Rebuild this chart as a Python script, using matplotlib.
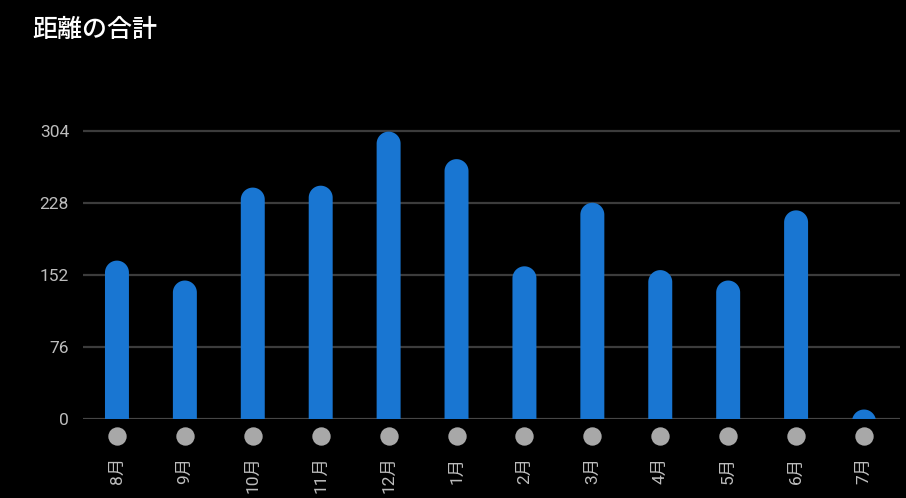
import matplotlib
matplotlib.use("Agg")
import matplotlib.pyplot as plt
from matplotlib.patches import Polygon
import numpy as np

months = ["8月", "9月", "10月", "11月", "12月", "1月", "2月", "3月", "4月", "5月", "6月", "7月"]
distance = [167, 146, 244, 246, 303, 274, 161, 228, 157, 146, 220, 10]
y_ticks = [0, 76, 152, 228, 304]

BLUE = "#1976d2"
GRID = "#3c3c3c"
LABEL = "#bdbdbd"
DOT = "#a8a8a8"
FONTS = ["Roboto", "Noto Sans CJK JP", "DejaVu Sans"]

W, H = 906, 498
fig = plt.figure(figsize=(W / 100, H / 100), dpi=100, facecolor="black")
# axes placed in pixels: left 83, right 900, bottom at y=419, top at y=125
ax = fig.add_axes([83 / W, (H - 419) / H, (900 - 83) / W, (419 - 125) / H])
ax.set_facecolor("black")

x = np.arange(len(months))
xlim = (-0.5, len(months) - 0.5 + 0.03)
ylim = (0, 310)
ax.set_xlim(*xlim)
ax.set_ylim(*ylim)

# rounded-top bars: one polygon per bar, the cap is a half ellipse that looks round on screen
bar_w = 0.353
ax_w_px = 900 - 83
ax_h_px = 419 - 125
r_px = bar_w * ax_w_px / (xlim[1] - xlim[0]) / 2
r_data = r_px * (ylim[1] - ylim[0]) / ax_h_px
theta = np.linspace(np.pi, 0, 40)
for xi, v in zip(x, distance):
    c = v - r_data
    base = min(0, c)
    arc = np.column_stack([xi + bar_w / 2 * np.cos(theta), c + r_data * np.sin(theta)])
    pts = np.vstack([[xi - bar_w / 2, base], arc, [xi + bar_w / 2, base]])
    ax.add_patch(Polygon(pts, closed=True, color=BLUE, lw=0, zorder=3))

ax.set_yticks(y_ticks)
ax.set_yticklabels([str(t) for t in y_ticks], family=FONTS, fontsize=12.5, color=LABEL)
ax.yaxis.grid(True, color=GRID, lw=1.6)
ax.set_axisbelow(True)
ax.axhline(0, color="#4a4a4a", lw=1.8, zorder=2)

ax.set_xticks(x)
ax.set_xticklabels(months, rotation=90, va="top", ha="center", family=FONTS, fontsize=12.5, color=LABEL)
ax.tick_params(axis="x", length=0, pad=27)
ax.tick_params(axis="y", length=0, pad=10)

ax.scatter(x, np.full(len(x), -17 / ax_h_px), s=175, color=DOT, transform=ax.get_xaxis_transform(),
           clip_on=False, lw=0, zorder=4)

for s in ax.spines.values():
    s.set_visible(False)

fig.text(32 / W, 1 - 30 / H, "距離の合計", family=["Noto Sans CJK JP"], fontsize=18, fontweight="medium",
         color="white", va="center", ha="left")

fig.savefig("out.png", dpi=100, facecolor="black")
